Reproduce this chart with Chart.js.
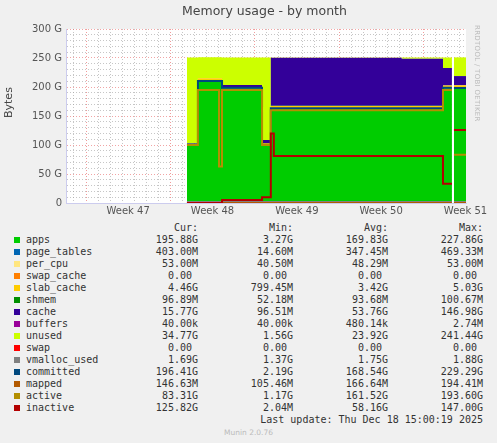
<!DOCTYPE html>
<html><head><meta charset="utf-8">
<script src="https://cdn.jsdelivr.net/npm/chart.js@4"></script>
<style>
body{margin:0;background:#f0f0f0;width:497px;height:443px;overflow:hidden;position:relative;font-family:"DejaVu Sans",sans-serif}
#wrap{position:absolute;left:0;top:0;width:497px;height:222px}
.t{position:absolute;white-space:pre}
.m{font-family:"DejaVu Sans Mono",monospace;font-size:10px;color:#333}
</style></head><body>
<div id="wrap"><canvas id="c"></canvas></div>
<div class="t" style="left:0;width:497px;top:3px;text-align:center;font-size:12.5px;color:#444;padding-left:32px;box-sizing:border-box">Memory usage - by month</div>
<div class="t" style="left:2px;top:118px;font-size:11px;color:#444;transform:rotate(-90deg);transform-origin:left top">Bytes</div>
<div class="t" style="left:481px;top:25px;font-size:7px;color:#bbb;transform:rotate(90deg);transform-origin:left top;letter-spacing:0.3px">RRDTOOL / TOBI OETIKER</div>
<div id="leg"></div>
<script>
// time in days from left edge of the plot
const days = [10.04, 10.95, 12.7, 12.95, 16.27, 17.0, 17.25, 27.86, 31.29, 32.03, 32.1, 32.2, 33.2];
const weekLines = [1.66, 8.66, 15.66, 22.66, 29.66];
const weekLabels = ["Week 47", "Week 48", "Week 49", "Week 50", "Week 51"];
// values in G
const apps        = [100, 210, 210, 198, 100, 163, 163, 163, 198, 198, null, 198, 198];
const pageTables  = [0.4, 0.4, 0.4, 0.4, 0.4, 0.4, 0.4, 0.4, 0.4, 0.4, null, 0.4, 0.4];
const perCpu      = [0.05, 0.05, 0.05, 0.05, 0.05, 0.05, 0.05, 0.05, 0.05, 0.05, null, 0.05, 0.05];
const swapCache   = [0, 0, 0, 0, 0, 0, 0, 0, 0, 0, null, 0, 0];
const slabCache   = [1, 4.5, 4.5, 1, 3, 4, 4, 4, 4, 4, null, 4.5, 4.5];
const shmem       = [0.1, 0.1, 0.1, 0.1, 0.1, 0.1, 0.1, 0.1, 0.1, 0.1, null, 0.1, 0.1];
const cache       = [1, 0, 0, 4, 5, 83, 83, 81, 30, 30, null, 15.8, 15.8];
const buffers     = [0, 0, 0, 0, 0, 0, 0, 0, 0, 0, null, 0, 0];
const unused      = [148.4, 36.4, 36.4, 47.4, 142.4, 0.5, 0.5, 2.4, 18.4, 18.4, null, 32.2, 32.2];
const swap        = [0, 0, 0, 0, 0, 0, 0, 0, 0, 0, null, 0, 0];
const vmalloc     = [1.7, 1.7, 1.7, 1.7, 1.7, 1.7, 1.7, 1.7, 1.7, 1.7, null, 1.7, 1.7];
const committed   = [100.5, 210.5, 210.5, 198.5, 100.5, 163.5, 163.5, 163.5, 198.5, 198.5, null, 198.4, 198.4];
const mapped      = [0.17, 0.17, 0.17, 0.17, 0.17, 0.17, 0.17, 0.17, 0.17, 0.17, null, 0.15, 0.15];
const active      = [100, 195, 63, 195, 100, 160, 160, 160, 195, 195, null, 83, 83];
const inactive    = [0, 0, 0, 5, 10, 120, 81, 81, 33, 33, null, 126, 126];
const yTicks = [0, 50, 100, 150, 200, 250, 300];

const names = ["apps","page_tables","per_cpu","swap_cache","slab_cache","shmem","cache","buffers","unused","swap","vmalloc_used","committed","mapped","active","inactive"];
const colors = ["#00CC00","#0066B3","#FFE680","#FF8000","#FFCC00","#008F00","#330099","#990099","#CCFF00","#FF0000","#808080","#00487D","#B35A00","#B38F00","#B30000"];
const series = [apps,pageTables,perCpu,swapCache,slabCache,shmem,cache,buffers,unused,swap,vmalloc,committed,mapped,active,inactive];
const cur = ["195.88G","403.00M","53.00M","0.00","4.46G","96.89M","15.77G","40.00k","34.77G","0.00","1.69G","196.41G","146.63M","83.31G","125.82G"];
const mins = ["3.27G","14.60M","40.50M","0.00","799.45M","52.18M","96.51M","40.00k","1.56G","0.00","1.37G","2.19G","105.46M","1.17G","2.04M"];
const avgs = ["169.83G","347.45M","48.29M","0.00","3.42G","93.68M","53.76G","480.14k","23.92G","0.00","1.75G","168.54G","166.64M","161.52G","58.16G"];
const maxs = ["227.86G","469.33M","53.00M","0.00","5.03G","100.67M","146.98G","2.74M","241.44G","0.00","1.88G","229.29G","194.41M","193.60G","147.00G"];

const datasets = series.map((s,i)=>{
  const stacked = i<=9;
  return {
    label: names[i],
    data: days.map((d,j)=>({x:d,y:s[j]})),
    stepped: 'before',
    borderColor: colors[i],
    backgroundColor: colors[i],
    borderWidth: stacked ? 0 : 2,
    pointRadius: 0,
    fill: stacked ? (i===0 ? 'origin' : '-1') : false,
    stack: stacked ? 'a' : 'l'+i,
    order: stacked ? 20 : 10-i,
    yAxisID: stacked ? 'y' : 'y2',
    spanGaps: false
  };
});

const bgPlugin = {id:'bg',beforeDraw(c){const a=c.chartArea,x=c.ctx;x.save();x.fillStyle='#fff';x.fillRect(a.left,a.top,a.right-a.left,a.bottom-a.top);x.restore();}};

const xt=[];for(let k=0;k<=65;k++){xt.push(+(weekLines[0]-1+k*0.5).toFixed(2));}
const wkMid = weekLines.map(w=>+(w+3.5).toFixed(2));
function isMajorX(v){return weekLines.some(w=>Math.abs(w-v)<0.01);}

new Chart(document.getElementById('c'),{
  type:'line',
  data:{datasets},
  options:{
    responsive:true,maintainAspectRatio:false,animation:false,
    layout:{padding:{top:29,right:31,left:0,bottom:0}},
    plugins:{legend:{display:false},tooltip:{enabled:false}},
    scales:{
      x:{type:'linear',min:0,max:33.2,
        afterBuildTicks(s){s.ticks=xt.filter(v=>v<=33.2).map(v=>({value:v}));},
        afterFit(s){s.height=19;},
        ticks:{autoSkip:false,maxRotation:0,color:'#555',font:{size:10,family:'DejaVu Sans'},padding:2,
          callback(v){const k=wkMid.findIndex(m=>Math.abs(m-v)<0.01);return k>=0?weekLabels[k]:'';}},
        grid:{drawTicks:false,color(c){const v=c.tick.value;if(isMajorX(v))return 'rgba(230,90,90,0.6)';return c.index%2===0?'rgba(160,160,160,0.6)':'rgba(0,0,0,0)';}},
        border:{color:'#ccccee',dash:[1,2]}
      },
      y:{stacked:true,min:0,max:300,
        afterBuildTicks(s){const t=[];for(let v=0;v<=300;v+=10)t.push({value:v});s.ticks=t;},
        afterFit(s){s.width=66;},
        ticks:{autoSkip:false,color:'#555',font:{size:10,family:'DejaVu Sans'},padding:4,
          callback(v){return yTicks.includes(v)?(v===0?'0':v+' G'):'';}},
        grid:{drawTicks:false,color(c){return c.tick.value%50===0?'rgba(230,90,90,0.55)':'rgba(160,160,160,0.6)';}},
        border:{color:'#ccccee',dash:[1,2]}
      },
      y2:{display:false,min:0,max:300,stacked:false}
    }
  },
  plugins:[bgPlugin]
});

// legend table
const leg=document.getElementById('leg');
function txt(x,y,s,align){const d=document.createElement('div');d.className='t m';d.textContent=s;d.style.top=y+'px';
  if(align==='r'){d.style.right=(497-x)+'px';}else d.style.left=x+'px';leg.appendChild(d);}
txt(198,222,'Cur:','r');txt(293,222,'Min:','r');txt(388,222,'Avg:','r');txt(483,222,'Max:','r');
names.forEach((n,i)=>{const y=234+i*12;
  const sq=document.createElement('div');sq.style.cssText=`position:absolute;left:14px;top:${y+3}px;width:6px;height:6px;background:${colors[i]}`;leg.appendChild(sq);
  txt(26,y,n);
  const pad=s=>/^\d+\.\d+$/.test(s)?s+' ':s;
  txt(198,y,pad(cur[i]),'r');txt(293,y,pad(mins[i]),'r');txt(388,y,pad(avgs[i]),'r');txt(483,y,pad(maxs[i]),'r');
});
txt(483,414,'Last update: Thu Dec 18 15:00:19 2025','r');
const mu=document.createElement('div');mu.className='t';mu.style.cssText='left:0;width:497px;text-align:center;top:428px;font-size:7.5px;color:#bbb';mu.textContent='Munin 2.0.76';leg.appendChild(mu);
</script></body></html>
